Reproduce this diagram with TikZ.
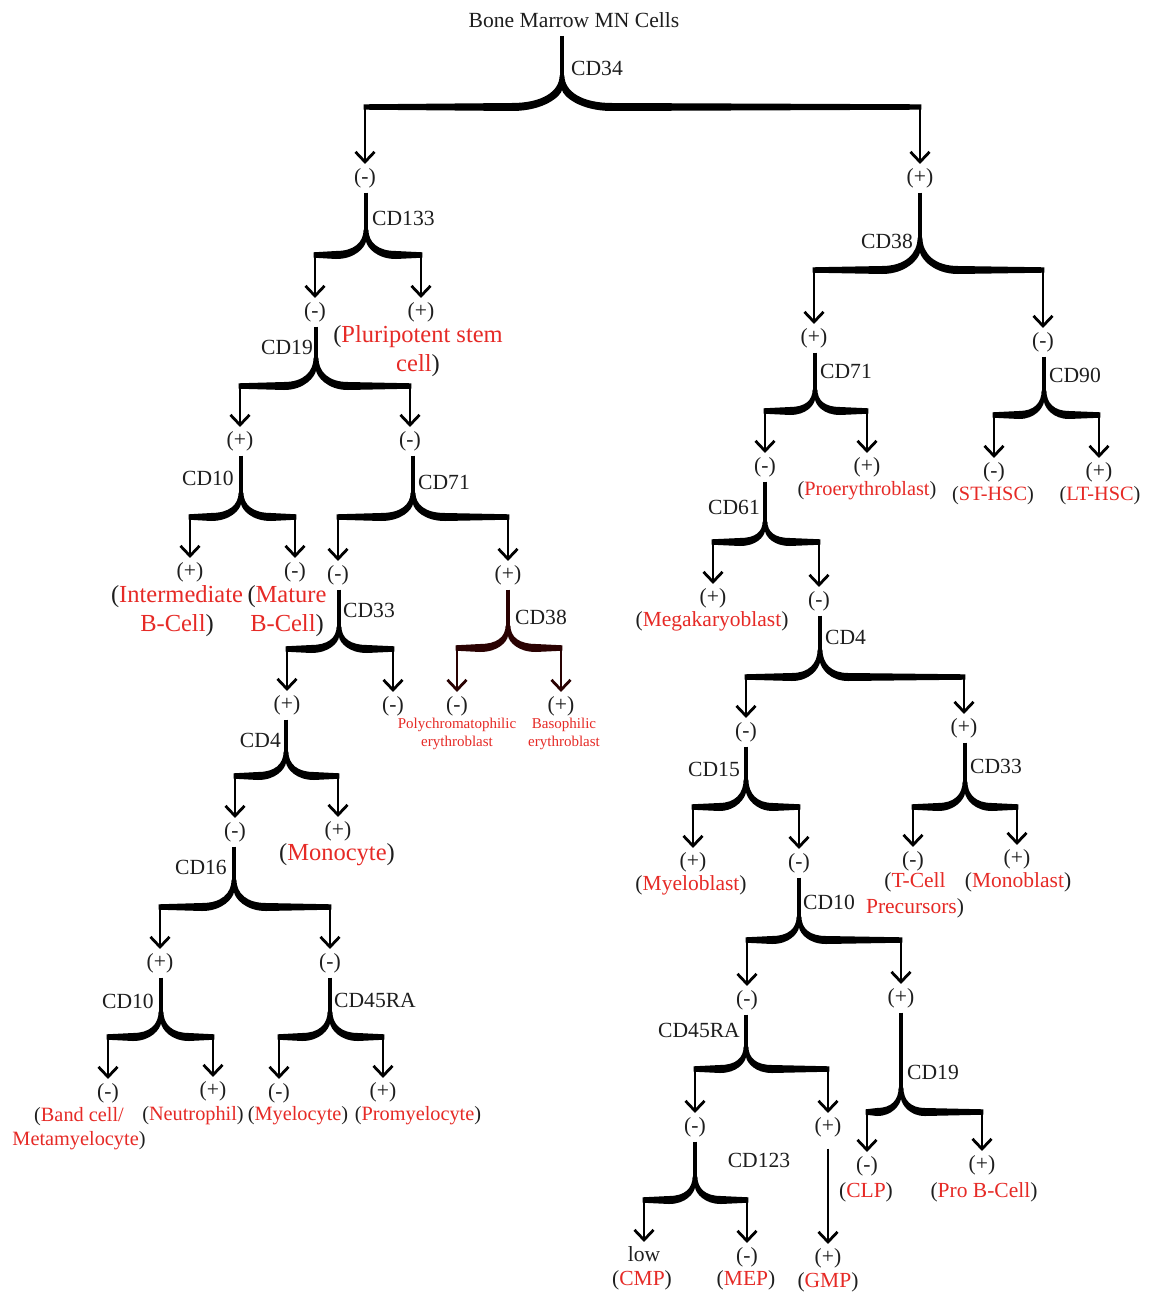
\documentclass[tikz,border=0pt]{standalone}
\usepackage{fontspec}
\setmainfont{Liberation Serif}
\usetikzlibrary{arrows.meta,calc}
\definecolor{cred}{RGB}{230,42,38}
\definecolor{txt}{RGB}{30,30,30}
\definecolor{dred}{RGB}{42,2,2}
\newcommand\rt[1]{\textcolor{cred}{#1}}
% #1 colour, #2 cusp, #3 left child, #4 right child, #5 bar depth, #6 curve width
\newcommand\fork[6][black]{%
 \path[fill=#1] let \p0=(#2), \p1=(#3.north), \p2=(#4.north) in
  ({\x0-2.4pt},{\y0+0.5pt}) -- ({\x0+2.4pt},{\y0+0.5pt})
  .. controls ({\x0+2.4pt},{\y0-0.5*#5}) and ({\x0+0.4*#6},{\y0-#5+4pt}) .. ({\x0+#6},{\y0-#5+4pt})
  -- ({\x2+1.4pt},{\y0-#5+2.7pt}) -- ({\x2+1.4pt},{\y0-#5-2.7pt}) -- ({\x0+#6},{\y0-#5-4pt})
  .. controls ({\x0+0.35*#6},{\y0-#5-4pt}) and ({\x0+1pt},{\y0-0.45*#5-6pt}) .. ({\x0},{\y0-0.45*#5})
  .. controls ({\x0-1pt},{\y0-0.45*#5-6pt}) and ({\x0-0.35*#6},{\y0-#5-4pt}) .. ({\x0-#6},{\y0-#5-4pt})
  -- ({\x1-1.4pt},{\y0-#5-2.7pt}) -- ({\x1-1.4pt},{\y0-#5+2.7pt}) -- ({\x0-#6},{\y0-#5+4pt})
  .. controls ({\x0-0.4*#6},{\y0-#5+4pt}) and ({\x0-2.4pt},{\y0-0.5*#5}) .. ({\x0-2.4pt},{\y0+0.5pt}) -- cycle;
 \draw[arr,#1] let \p0=(#2), \p1=(#3.north) in ({\x1},{\y0-#5}) -- (#3.north);
 \draw[arr,#1] let \p0=(#2), \p2=(#4.north) in ({\x2},{\y0-#5}) -- (#4.north);
}
\begin{document}
\begin{tikzpicture}[x=1pt,y=-1pt,
  sg/.style={font=\fontsize{21.6pt}{26pt}\selectfont, text=txt, inner sep=1.5pt, text height=15pt, text depth=4.7pt},
  cd/.style={font=\fontsize{21.6pt}{26pt}\selectfont, text=txt, inner sep=0pt},
  big/.style={font=\fontsize{24.5pt}{29pt}\selectfont, text=txt, align=center, inner sep=0pt},
  mid/.style={font=\fontsize{21.5pt}{26pt}\selectfont, text=txt, align=center, inner sep=0pt},
  sml/.style={font=\fontsize{20.3pt}{24pt}\selectfont, text=txt, align=center, inner sep=0pt},
  tiny/.style={font=\fontsize{15pt}{18pt}\selectfont, text=cred, align=center, inner sep=0pt},
  arr/.style={line width=2.8pt, -{Straight Barb[length=10pt,width=19pt]}, shorten >=2.5pt},
  stem/.style={line width=4.8pt, shorten <=3pt},
]
\fill[white] (0,0) rectangle (1154,1295);
\useasboundingbox (0,0) rectangle (1154,1295);

% top
\node[cd] (root) at (574,20) {Bone Marrow MN Cells};
\coordinate (k0) at (562,76);
\node[sg] (n1) at (365,178) {(-)};
\node[sg] (n2) at (920,178) {(+)};
\draw[stem, shorten <=8pt] (root.south -| k0) -- (k0);
\fork{k0}{n1}{n2}{31pt}{50pt}
\node[cd,anchor=west] at (571,68) {CD34};

% CD133
\coordinate (k1) at (366,230);
\node[sg] (a1) at (315,312) {(-)};
\node[sg] (a2) at (421,312) {(+)};
\draw[stem] (n1.south -| k1) -- (k1);
\fork{k1}{a1}{a2}{25pt}{30pt}
\node[cd,anchor=west] at (372,218) {CD133};
\node[big] at (418,351) {(\rt{Pluripotent stem}\\\rt{cell})};

% CD19
\coordinate (k2) at (316,358);
\node[sg] (b1) at (240,441) {(+)};
\node[sg] (b2) at (410,441) {(-)};
\draw[stem] (a1.south -| k2) -- (k2);
\fork{k2}{b1}{b2}{28pt}{32pt}
\node[cd,anchor=east] at (313,347) {CD19};

% CD10
\coordinate (k3) at (241,493);
\node[sg] (c1) at (190,572) {(+)};
\node[sg] (c2) at (295,572) {(-)};
\draw[stem] (b1.south -| k3) -- (k3);
\fork{k3}{c1}{c2}{24pt}{30pt}
\node[cd,anchor=east] at (234,478) {CD10};
\node[big] at (177,611) {(\rt{Intermediate}\\\rt{B-Cell})};
\node[big] at (287,611) {(\rt{Mature}\\\rt{B-Cell})};

% CD71
\coordinate (k4) at (413,493);
\node[sg] (c3) at (338,575) {(-)};
\node[sg] (c4) at (508,575) {(+)};
\draw[stem] (b2.south -| k4) -- (k4);
\fork{k4}{c3}{c4}{24pt}{32pt}
\node[cd,anchor=west] at (418,482) {CD71};

% CD33
\coordinate (k5) at (339,627);
\node[sg] (e1) at (287,705) {(+)};
\node[sg] (e2) at (393,706) {(-)};
\draw[stem] (c3.south -| k5) -- (k5);
\fork{k5}{e1}{e2}{22pt}{28pt}
\node[cd,anchor=west] at (343,610) {CD33};

% CD38 (left)
\coordinate (k6) at (508,626);
\node[sg] (e3) at (457,706) {(-)};
\node[sg] (e4) at (561,706) {(+)};
\draw[stem,dred] (c4.south -| k6) -- (k6);
\fork[dred]{k6}{e3}{e4}{22pt}{28pt}
\node[cd,anchor=west] at (515,617) {CD38};
\node[tiny] at (457,734) {Polychromatophilic\\erythroblast};
\node[tiny] at (564,734) {Basophilic\\erythroblast};

% CD4 (left)
\coordinate (k7) at (286,752);
\node[sg] (f1) at (235,832) {(-)};
\node[sg] (f2) at (338,831) {(+)};
\draw[stem] (e1.south -| k7) -- (k7);
\fork{k7}{f1}{f2}{24pt}{28pt}
\node[cd,anchor=east] at (281,740) {CD4};
\node[big] at (337,855) {(\rt{Monocyte})};

% CD16
\coordinate (k8) at (234,880);
\node[sg] (g1) at (160,963) {(+)};
\node[sg] (g2) at (330,963) {(-)};
\draw[stem] (f1.south -| k8) -- (k8);
\fork{k8}{g1}{g2}{27pt}{32pt}
\node[cd,anchor=east] at (227,867) {CD16};

% CD10 bottom left
\coordinate (k9) at (161,1012);
\node[sg] (h1) at (108,1093) {(-)};
\node[sg] (h2) at (213,1091) {(+)};
\draw[stem] (g1.south -| k9) -- (k9);
\fork{k9}{h1}{h2}{25pt}{28pt}
\node[cd,anchor=east] at (154,1001) {CD10};
\node[sml] at (79,1129) {(\rt{Band cell/}\\\rt{Metamyelocyte})};
\node[sml] at (193,1116) {(\rt{Neutrophil})};

% CD45RA bottom left
\coordinate (k10) at (330,1012);
\node[sg] (h3) at (279,1093) {(-)};
\node[sg] (h4) at (383,1092) {(+)};
\draw[stem] (g2.south -| k10) -- (k10);
\fork{k10}{h3}{h4}{25pt}{28pt}
\node[cd,anchor=west] at (334,1000) {CD45RA};
\node[sml] at (298,1116) {(\rt{Myelocyte})};
\node[sml] at (418,1116) {(\rt{Promyelocyte})};

% CD38 (right)
\coordinate (k11) at (920,238);
\node[sg] (i1) at (814,338) {(+)};
\node[sg] (i2) at (1043,342) {(-)};
\draw[stem] (n2.south -| k11) -- (k11);
\fork{k11}{i1}{i2}{32pt}{38pt}
\node[cd,anchor=east] at (913,241) {CD38};

% CD71 (right)
\coordinate (k12) at (815,390);
\node[sg] (j1) at (765,467) {(-)};
\node[sg] (j2) at (867,467) {(+)};
\draw[stem] (i1.south -| k12) -- (k12);
\fork{k12}{j1}{j2}{21pt}{25pt}
\node[cd,anchor=west] at (820,371) {CD71};
\node[sml] at (867,491) {(\rt{Proerythroblast})};

% CD90
\coordinate (k13) at (1044,391);
\node[sg] (j3) at (994,472) {(-)};
\node[sg] (j4) at (1099,472) {(+)};
\draw[stem] (i2.south -| k13) -- (k13);
\fork{k13}{j3}{j4}{24pt}{25pt}
\node[cd,anchor=west] at (1049,375) {CD90};
\node[sml] at (993,496) {(\rt{ST-HSC})};
\node[sml] at (1100,496) {(\rt{LT-HSC})};

% CD61
\coordinate (k14) at (765,522);
\node[sg] (l1) at (713,598) {(+)};
\node[sg] (l2) at (819,601) {(-)};
\draw[stem] (j1.south -| k14) -- (k14);
\fork{k14}{l1}{l2}{20pt}{25pt}
\node[cd,anchor=east] at (760,507) {CD61};
\node[mid] at (712,621) {(\rt{Megakaryoblast})};

% CD4 (right)
\coordinate (k15) at (820,650);
\node[sg] (m1) at (746,732) {(-)};
\node[sg] (m2) at (964,728) {(+)};
\draw[stem] (l2.south -| k15) -- (k15);
\fork{k15}{m1}{m2}{27pt}{28pt}
\node[cd,anchor=west] at (825,637) {CD4};

% CD15
\coordinate (k16) at (746,780);
\node[sg] (o1) at (693,862) {(+)};
\node[sg] (o2) at (799,863) {(-)};
\draw[stem] (m1.south -| k16) -- (k16);
\fork{k16}{o1}{o2}{27pt}{27pt}
\node[cd,anchor=east] at (740,769) {CD15};
\node[mid] at (691,885) {(\rt{Myeloblast})};

% CD33 (right)
\coordinate (k17) at (965,782);
\node[sg] (o3) at (913,861) {(-)};
\node[sg] (o4) at (1017,859) {(+)};
\draw[stem] (m2.south -| k17) -- (k17);
\fork{k17}{o3}{o4}{25pt}{27pt}
\node[cd,anchor=west] at (970,766) {CD33};
\node[mid] at (915,895) {(\rt{T-Cell}\\\rt{Precursors})};
\node[mid] at (1018,882) {(\rt{Monoblast})};

% CD10 (right)
\coordinate (k18) at (799,917);
\node[sg] (q1) at (747,1000) {(-)};
\node[sg] (q2) at (901,998) {(+)};
\draw[stem] (o2.south -| k18) -- (k18);
\fork{k18}{q1}{q2}{23pt}{27pt}
\node[cd,anchor=west] at (803,902) {CD10};

% CD45RA (right)
\coordinate (k19) at (746,1047);
\node[sg] (s1) at (695,1127) {(-)};
\node[sg] (s2) at (828,1127) {(+)};
\draw[stem] (q1.south -| k19) -- (k19);
\fork{k19}{s1}{s2}{22pt}{26pt}
\node[cd,anchor=east] at (740,1030) {CD45RA};

% CD19 (right)
\coordinate (k20) at (901,1088);
\node[sg] (s3) at (867,1166) {(-)};
\node[sg] (s4) at (982,1165) {(+)};
\draw[stem] (q2.south -| k20) -- (k20);
\fork{k20}{s3}{s4}{24pt}{24pt}
\node[cd,anchor=west] at (907,1072) {CD19};
\node[mid] at (866,1192) {(\rt{CLP})};
\node[mid] at (984,1192) {(\rt{Pro B-Cell})};

% CD123
\coordinate (k21) at (695,1177);
\node[sg] (t1) at (644,1256) {low};
\node[sg] (t2) at (747,1257) {(-)};
\draw[stem] (s1.south -| k21) -- (k21);
\fork{k21}{t1}{t2}{23pt}{26pt}
\node[cd] at (759,1160) {CD123};
\node[mid] at (642,1280) {(\rt{CMP})};
\node[mid] at (746,1280) {(\rt{MEP})};

% GMP
\node[sg] (t3) at (828,1258) {(+)};
\draw[arr, shorten <=10pt] (s2) -- (t3);
\node[mid] at (828,1282) {(\rt{GMP})};
\end{tikzpicture}
\end{document}
